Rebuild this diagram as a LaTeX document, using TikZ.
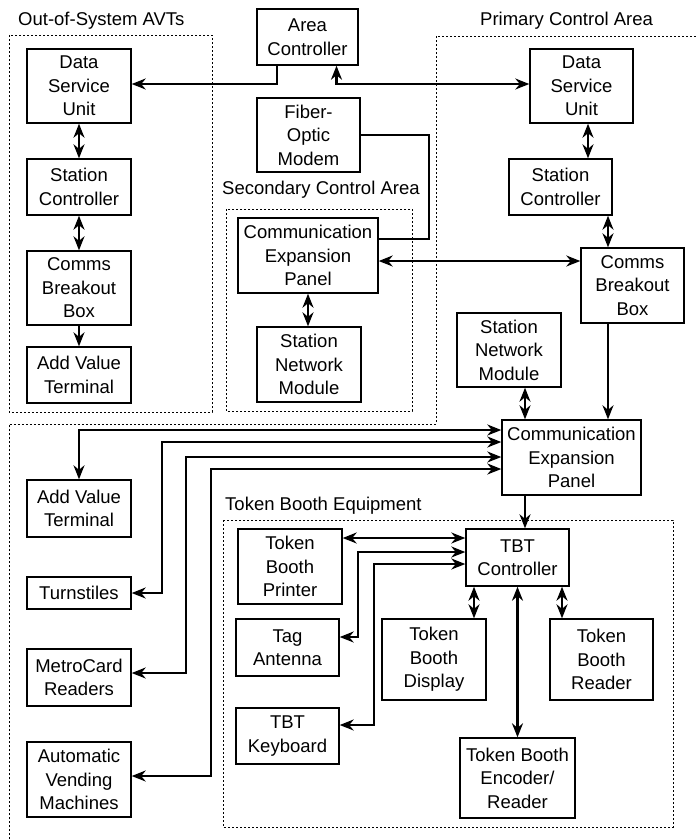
\documentclass[tikz,border=0pt]{standalone}
\usepackage{fontspec}
\setmainfont{Liberation Sans}
\usetikzlibrary{arrows.meta}

\begin{document}
\begin{tikzpicture}[x=1pt,y=-1pt,
  font=\fontsize{18.5}{23.5}\selectfont,
  >={Stealth[length=14pt,width=11pt,inset=4.5pt]},
  box/.style={draw,line width=1.4pt,align=center,inner sep=0pt,minimum width=104pt},
  conn/.style={line width=2.1pt},
  arr/.style={conn,->},
  dbl/.style={conn,<->},
  zone/.style={line width=1pt,dash pattern=on 2pt off 2pt},
  zonelabel/.style={anchor=west,inner sep=0pt}]
\useasboundingbox (0,0) rectangle (697,839);
% areas
\draw[zone](9,35)rectangle(212,412);
\draw[zone](226,209)rectangle(412,411);
\draw[zone](9,839)--(9,424)--(436,424)--(436,36)--(697,36);
\draw[zone](223,520)rectangle(673,827);
\node[zonelabel](lblout) at (18,21){Out-of-System AVTs};
\node[zonelabel](lblpri) at (480,21){Primary Control Area};
\node[zonelabel](lblsec) at (222,190){Secondary Control Area};
\node[zonelabel](lbltok) at (225,506){Token Booth Equipment};
% out-of-system
\node[box,minimum height=74pt](dsuL) at (79,86){Data\\Service\\Unit};
\node[box,minimum height=56pt](scL) at (79,187){Station\\Controller};
\node[box,minimum height=74pt](cbbL) at (79,288){Comms\\Breakout\\Box};
\node[box,minimum height=56pt](avtL) at (79,375){Add Value\\Terminal};
% middle column
\node[box,minimum width=101pt,minimum height=56pt](areactl) at (307.5,37){Area\\Controller};
\node[box,minimum width=103pt,minimum height=74pt](fom) at (308.5,135){Fiber-\\Optic\\Modem};
\node[box,minimum width=140pt,minimum height=75pt](cepS) at (308,255.5){Communication\\Expansion\\Panel};
\node[box,minimum height=75pt](snmS) at (309,364.5){Station\\Network\\Module};
% primary
\node[box,minimum width=103pt,minimum height=74pt](dsuR) at (581.5,86){Data\\Service\\Unit};
\node[box,minimum width=103pt,minimum height=56pt](scR) at (560.5,187){Station\\Controller};
\node[box,minimum width=103pt,minimum height=75pt](cbbR) at (632.5,285.5){Comms\\Breakout\\Box};
\node[box,minimum height=74pt](snmP) at (509,350){Station\\Network\\Module};
\node[box,minimum width=139pt,minimum height=75pt](cepP) at (571.5,457.5){Communication\\Expansion\\Panel};
\node[box,minimum height=57pt](avtB) at (79,508.5){Add Value\\Terminal};
\node[box,minimum height=32pt](turn) at (79,593){Turnstiles};
\node[box,minimum height=57pt](mcr) at (79,677.5){MetroCard\\Readers};
\node[box,minimum height=75pt](avm) at (79,779.5){Automatic\\Vending\\Machines};
% token booth
\node[box,minimum width=103pt,minimum height=57pt](tbt) at (517.5,557.5){TBT\\Controller};
\node[box,minimum height=75pt](tbp) at (290,566.5){Token\\Booth\\Printer};
\node[box,minimum width=103pt,minimum height=57pt](ant) at (287.5,647.5){Tag\\Antenna};
\node[box,minimum width=103pt,minimum height=56pt](kbd) at (287.5,736){TBT\\Keyboard};
\node[box,minimum height=81pt](tbd) at (434,659.5){Token\\Booth\\Display};
\node[box,minimum width=103pt,minimum height=81pt](tbr) at (601.5,659.5){Token\\Booth\\Reader};
\node[box,minimum width=115pt,minimum height=80pt](tbe) at (517.5,778){Token Booth\\Encoder/\\Reader};
% links
\draw[dbl](dsuL)--(scL);
\draw[dbl](scL)--(cbbL);
\draw[arr](cbbL)--(avtL);
\draw[arr]([xshift=-30.5pt]areactl.south)|-([yshift=2pt]dsuL.east);
\draw[dbl]([xshift=29pt]areactl.south)|-([yshift=2pt]dsuR.west);
\draw[conn](fom.east)--++(68,0)|-([yshift=16.5pt]cepS.east);
\draw[dbl]([yshift=-5.5pt]cepS.east)--([yshift=24.5pt]cbbR.west);
\draw[dbl](cepS.south)--(cepS.south|-snmS.north);
\draw[dbl]([xshift=6.5pt]dsuR.south)--([xshift=27.5pt]scR.north);
\draw[dbl]([xshift=47.5pt]scR.south)--([xshift=-24.5pt]cbbR.north);
\draw[arr]([xshift=-24.5pt]cbbR.south)--([xshift=36.5pt]cepP.north);
\draw[dbl]([xshift=16pt]snmP.south)--([xshift=-46.5pt]cepP.north);
\draw[dbl]([yshift=27.5pt]cepP.west)-|(avtB.north);
\draw[dbl]([yshift=15.5pt]cepP.west)-|([xshift=30pt]turn.east)--(turn.east);
\draw[dbl]([yshift=0.5pt]cepP.west)-|([xshift=54pt,yshift=4.5pt]mcr.east)--([yshift=4.5pt]mcr.east);
\draw[dbl]([yshift=-11.5pt]cepP.west)-|([xshift=79pt,yshift=3.5pt]avm.east)--([yshift=3.5pt]avm.east);
\draw[arr]([xshift=-46.5pt]cepP.south)--([xshift=7.5pt]tbt.north);
\draw[dbl]([yshift=19.5pt]tbt.west)--([yshift=28.5pt]tbp.east);
\draw[dbl]([yshift=5.5pt]tbt.west)-|([xshift=18pt,yshift=10.5pt]ant.east)--([yshift=10.5pt]ant.east);
\draw[dbl]([yshift=-6.5pt]tbt.west)-|([xshift=34pt,yshift=11pt]kbd.east)--([yshift=11pt]kbd.east);
\draw[dbl]([xshift=-43.5pt]tbt.south)--([xshift=40pt]tbd.north);
\draw[dbl](tbt.south)--(tbe.north);
\draw[dbl]([xshift=44.5pt]tbt.south)--([xshift=-39.5pt]tbr.north);
\end{tikzpicture}
\end{document}
